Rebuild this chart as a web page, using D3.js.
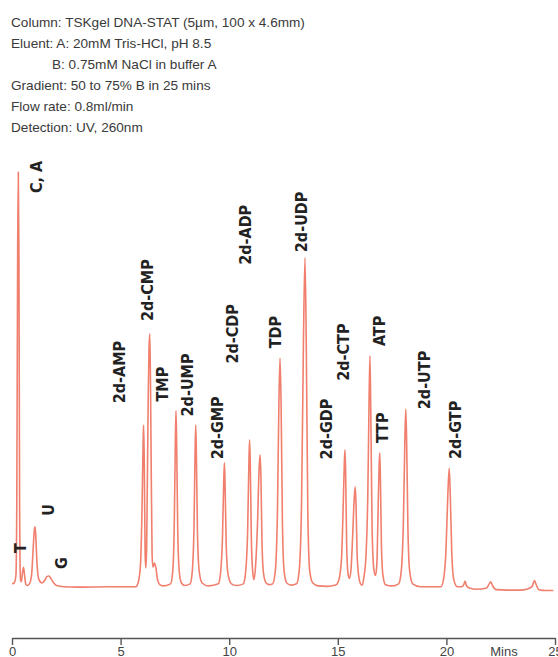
<!DOCTYPE html>
<html>
<head>
<meta charset="utf-8">
<script src="https://cdn.jsdelivr.net/npm/d3@7"></script>
<style>
  html, body { margin: 0; padding: 0; background: #fff; }
  svg { display: block; }
</style>
</head>
<body>
<svg id="chart" width="558" height="657"></svg>
<script>
// ---------- data ----------
const headerLines = [
  "Column: TSKgel DNA-STAT (5\u00b5m, 100 x 4.6mm)",
  "Eluent: A: 20mM Tris-HCl, pH 8.5",
  "B: 0.75mM NaCl in buffer A",
  "Gradient: 50 to 75% B in 25 mins",
  "Flow rate: 0.8ml/min",
  "Detection: UV, 260nm"
];
const xTicks = [0, 5, 10, 15, 20, 25];
const xUnit = "Mins";

// peak labels: [text, time (min), signal] (label centre in data units)
const peakLabels = [
  ["C, A", 1.15, 98.8],
  ["T", 0.37, 9.6],
  ["U", 1.70, 18.8],
  ["G", 2.30, 6.0],
  ["2d-AMP", 4.93, 51.9],
  ["2d-CMP", 6.26, 71.6],
  ["TMP", 6.95, 49.0],
  ["2d-UMP", 8.10, 48.8],
  ["2d-GMP", 9.44, 38.5],
  ["2d-CDP", 10.13, 61.1],
  ["2d-ADP", 10.77, 84.9],
  ["TDP", 12.11, 61.5],
  ["2d-UDP", 13.35, 88.0],
  ["2d-GDP", 14.46, 38.2],
  ["2d-CTP", 15.24, 56.7],
  ["ATP", 16.90, 61.8],
  ["TTP", 17.08, 38.5],
  ["2d-UTP", 19.01, 50.0],
  ["2d-GTP", 20.44, 38.0]
];

// chromatogram trace: [time (min), signal]
const chromatogram = [
  [0.00, 1.0], [0.10, 1.2], [0.18, 3], [0.22, 20], [0.26, 80], [0.29, 100], [0.32, 80], [0.35, 20],
  [0.39, 2.0], [0.43, 1.5], [0.49, 4], [0.53, 5.0], [0.57, 3.5], [0.63, 1.0], [0.70, 0.6], [0.80, 1.0],
  [0.90, 3], [0.97, 9], [1.03, 14], [1.06, 14.7], [1.09, 13], [1.15, 6], [1.24, 2.0], [1.38, 1.2],
  [1.52, 2.0], [1.62, 2.8], [1.70, 2.9], [1.80, 2.2], [1.92, 1.2], [2.05, 0.6], [2.40, 0.3], [3.00, 0.2],
  [4.50, 0.3], [5.70, 0.3],
  [5.82, 1.5], [5.92, 6], [5.99, 20], [6.04, 36], [6.06, 39.2], [6.09, 30], [6.13, 8], [6.16, 4.8],
  [6.20, 10], [6.27, 45], [6.31, 58], [6.35, 61.1], [6.40, 35], [6.45, 8], [6.49, 5.0], [6.56, 6.0],
  [6.62, 5.0], [6.70, 2.0], [6.80, 0.8], [6.95, 0.5],
  [7.30, 1.0], [7.40, 4], [7.47, 15], [7.52, 35], [7.55, 42.6], [7.58, 35], [7.63, 14], [7.70, 4],
  [7.80, 1.2], [7.95, 0.6],
  [8.20, 1.0], [8.30, 4], [8.38, 15], [8.43, 33], [8.46, 39.2], [8.49, 32], [8.54, 13], [8.62, 4],
  [8.75, 1.2], [9.05, 0.5],
  [9.50, 1.0], [9.60, 3.5], [9.69, 12], [9.75, 26], [9.78, 30.1], [9.81, 25], [9.86, 11], [9.94, 3.5],
  [10.10, 1.0], [10.35, 0.6],
  [10.65, 1.0], [10.75, 3.5], [10.85, 14], [10.91, 31], [10.94, 35.6], [10.97, 30], [11.02, 12],
  [11.08, 4], [11.14, 2.0], [11.21, 5], [11.30, 15], [11.38, 29], [11.42, 32.0], [11.46, 27],
  [11.51, 11], [11.58, 3.5], [11.70, 1.2], [11.85, 0.8],
  [12.00, 1.0], [12.12, 4], [12.22, 18], [12.29, 45], [12.34, 55.3], [12.39, 44], [12.45, 16],
  [12.53, 4], [12.65, 1.2], [12.85, 0.7],
  [13.10, 1.0], [13.22, 4], [13.33, 20], [13.42, 60], [13.49, 79.4], [13.55, 58], [13.62, 18],
  [13.71, 4], [13.85, 1.2], [14.10, 0.5],
  [14.50, 0.4], [14.90, 0.7], [15.05, 2], [15.17, 7], [15.25, 20], [15.30, 30], [15.33, 33.2],
  [15.36, 28], [15.41, 10], [15.47, 3.5], [15.53, 2.3], [15.60, 4], [15.68, 12], [15.75, 21],
  [15.80, 24.3], [15.84, 20], [15.89, 8], [15.96, 3], [16.05, 1.0], [16.12, 0.7], [16.20, 2.5],
  [16.30, 8], [16.38, 22], [16.44, 45], [16.48, 55.8], [16.52, 42], [16.58, 14], [16.66, 4.5],
  [16.74, 3.0], [16.80, 6], [16.86, 20], [16.90, 29], [16.93, 32.5], [16.96, 27], [17.01, 10],
  [17.08, 3], [17.20, 0.8], [17.50, 0.5],
  [17.80, 1.0], [17.92, 4], [18.02, 16], [18.09, 36], [18.13, 43.0], [18.17, 35], [18.23, 14],
  [18.31, 4], [18.45, 1.0], [18.80, 0.3],
  [19.75, 0.3], [19.88, 2.5], [19.98, 9], [20.07, 23], [20.13, 28.8], [20.18, 22], [20.25, 8],
  [20.34, 2], [20.50, 0.3], [20.70, 0.3],
  [20.80, 0.8], [20.86, 1.7], [20.92, 0.6], [21.05, 0.0], [21.40, -0.3], [21.85, 0.0], [21.97, 1.0],
  [22.04, 1.5], [22.12, 0.6], [22.30, -0.4], [22.80, -0.5], [23.40, -0.5], [23.70, -0.3],
  [23.95, 0.4], [24.05, 1.8], [24.12, 1.0], [24.25, -0.4], [24.60, -0.6], [24.92, -0.6]
];

// ---------- drawing ----------
const svg = d3.select("#chart");

const x = d3.scaleLinear().domain([0, 25]).range([12, 555]);
const y = d3.scaleLinear().domain([0, 100]).range([588, 172]);

const textFont = "'Liberation Sans', Arial, sans-serif";

// header
const header = svg.append("g")
  .attr("font-family", textFont)
  .attr("font-size", 13.6)
  .attr("fill", "#3a3a3a");
header.selectAll("text")
  .data(headerLines)
  .join("text")
  .attr("x", (d, i) => i === 2 ? 52 : 11)
  .attr("y", (d, i) => 27 + i * 20.9)
  .text(d => d);

// trace
const line = d3.line()
  .x(d => x(d[0]))
  .y(d => y(d[1]))
  .curve(d3.curveMonotoneX);

svg.append("path")
  .datum(chromatogram)
  .attr("fill", "none")
  .attr("stroke", "#f07f6d")
  .attr("stroke-width", 1.6)
  .attr("stroke-linejoin", "round")
  .attr("d", line);

// peak labels
svg.append("g")
  .attr("font-family", "'DejaVu Sans Condensed', 'DejaVu Sans', sans-serif")
  .attr("font-stretch", "condensed")
  .attr("font-weight", "bold")
  .attr("font-size", 16)
  .attr("fill", "#222")
  .selectAll("text")
  .data(peakLabels)
  .join("text")
  .attr("transform", d => `translate(${x(d[1])},${y(d[2])}) rotate(-90)`)
  .attr("text-anchor", "middle")
  .attr("dominant-baseline", "central")
  .text(d => d[0]);

// axis
const axis = d3.axisBottom(x)
  .tickValues(xTicks)
  .tickSizeInner(7)
  .tickSizeOuter(0)
  .tickPadding(2);

const gAxis = svg.append("g")
  .attr("transform", "translate(0,638)")
  .call(axis);
gAxis.select(".domain").attr("stroke", "#555").attr("stroke-width", 1.6);
gAxis.selectAll(".tick line").attr("stroke", "#555").attr("stroke-width", 1.4);
gAxis.selectAll(".tick text")
  .attr("font-family", textFont)
  .attr("font-size", 13)
  .attr("fill", "#444");

gAxis.append("text")
  .attr("x", 504)
  .attr("y", 9)
  .attr("dy", "0.71em")
  .attr("text-anchor", "middle")
  .attr("font-family", textFont)
  .attr("font-size", 13)
  .attr("fill", "#444")
  .text(xUnit);
</script>
</body>
</html>
